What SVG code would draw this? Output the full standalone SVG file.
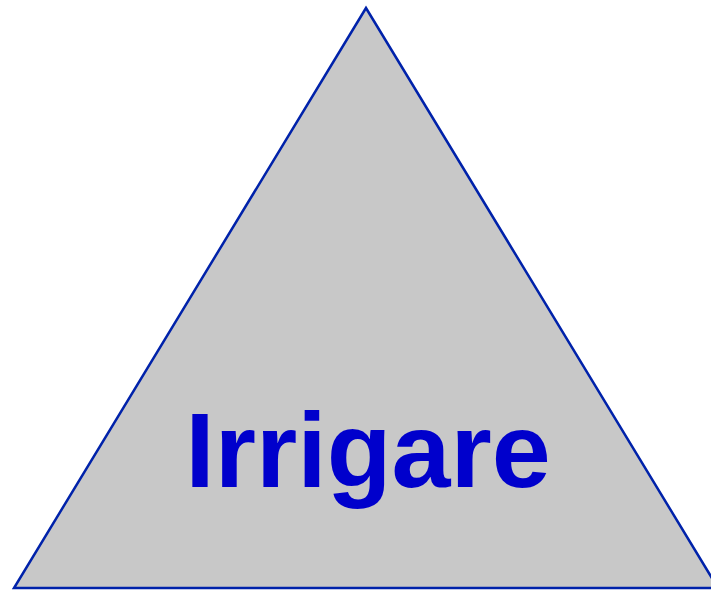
<svg xmlns="http://www.w3.org/2000/svg" width="711" height="593" viewBox="0 0 711 593">
<style>
.tri{fill:#c8c8c8;stroke:#0022aa;stroke-width:2.5;stroke-linejoin:miter}
.lbl{font-family:"Liberation Sans",Arial,sans-serif;font-weight:bold;font-size:106px;fill:#0000cc;text-anchor:middle}
</style>
<rect width="711" height="593" fill="#ffffff"/>
<g id="triangle">
<polygon class="tri" points="366,8 14,588 718,588"/>
<text class="lbl" x="368" y="487">Irrigare</text>
</g>
</svg>
